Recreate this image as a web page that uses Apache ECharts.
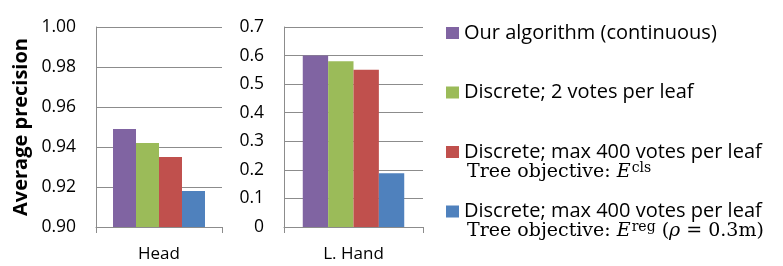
<!DOCTYPE html>
<html>
<head>
<meta charset="utf-8">
<script src="https://cdn.jsdelivr.net/npm/echarts@6/dist/echarts.min.js"></script>
<style>
html,body{margin:0;padding:0;background:#fff;}
#chart{width:783px;height:266px;}
</style>
</head>
<body>
<div id="chart"></div>
<script>
const headCategories = ['Head'];
const handCategories = ['L. Hand'];
const seriesNames = [
  'Our algorithm (continuous)',
  'Discrete; 2 votes per leaf',
  'Discrete; max 400 votes per leaf ',
  'Discrete; max 400 votes per leaf'
];
const seriesColors = ['#8064A2', '#9BBB59', '#C0504D', '#4F81BD'];
const headValues = [0.949, 0.942, 0.935, 0.918];
const handValues = [0.60, 0.58, 0.55, 0.188];
const headTicks = [0.90, 0.92, 0.94, 0.96, 0.98, 1.00];
const handTicks = [0, 0.1, 0.2, 0.3, 0.4, 0.5, 0.6, 0.7];

const FONT = 'Open Sans';
const SERIF = 'DejaVu Serif';
const gridColor = '#8c8c8c';

const chart = echarts.init(document.getElementById('chart'), null, {renderer: 'canvas'});

function xAxisCfg(gridIndex, cats) {
  return {
    type: 'category', gridIndex, data: cats,
    axisLine: {show: true, lineStyle: {color: gridColor, width: 1}},
    axisTick: {show: true, length: 6, alignWithLabel: false, lineStyle: {color: gridColor}},
    axisLabel: {color: '#000', fontFamily: FONT, fontSize: 17, margin: 19},
    splitLine: {show: false}
  };
}
function yAxisCfg(gridIndex, ticks, digits, extra) {
  return Object.assign({
    type: 'value', gridIndex,
    min: ticks[0], max: ticks[ticks.length - 1],
    interval: +(ticks[1] - ticks[0]).toFixed(4),
    axisLine: {show: true, lineStyle: {color: gridColor, width: 1}},
    axisTick: {show: false},
    axisLabel: {color: '#000', fontFamily: FONT, fontSize: 17.5, margin: 20,
      formatter: v => (v === 0 ? '0' : v.toFixed(digits))},
    splitLine: {show: true, lineStyle: {color: gridColor, width: 1}}
  }, extra || {});
}

const series = [];
seriesNames.forEach((name, i) => {
  series.push({
    name, type: 'bar', xAxisIndex: 0, yAxisIndex: 0,
    data: [headValues[i]], itemStyle: {color: seriesColors[i]},
    barGap: '0%', barCategoryGap: '27%', animation: false
  });
  series.push({
    name, type: 'bar', xAxisIndex: 1, yAxisIndex: 1,
    data: [handValues[i]], itemStyle: {color: seriesColors[i]},
    barGap: '0%', barCategoryGap: '27%', animation: false
  });
});

const richSecond = {
  t: {fontFamily: SERIF, fontSize: 19, color: '#000'},
  i: {fontFamily: SERIF, fontStyle: 'italic', fontSize: 19, color: '#000'},
  sup: {fontFamily: SERIF, fontSize: 14, color: '#000', verticalAlign: 'top', padding: [0, 0, 8, 1]}
};

const option = {
  backgroundColor: '#fff',
  animation: false,
  grid: [
    {left: 96, top: 27, width: 126, height: 200},
    {left: 284, top: 27, width: 139, height: 200}
  ],
  xAxis: [xAxisCfg(0, headCategories), xAxisCfg(1, handCategories)],
  yAxis: [
    yAxisCfg(0, headTicks, 2, {
      name: 'Average precision', nameLocation: 'middle', nameGap: 65,
      nameTextStyle: {fontFamily: FONT, fontSize: 20, fontWeight: 'bold', color: '#000'}
    }),
    yAxisCfg(1, handTicks, 1)
  ],
  legend: {
    orient: 'vertical', left: 441, top: 18,
    itemWidth: 13, itemHeight: 12, itemGap: 39.5,
    icon: 'rect',
    data: seriesNames,
    selectedMode: false,
    textStyle: {fontFamily: FONT, fontSize: 20, color: '#000', lineHeight: 20}
  },
  graphic: [
    {type: 'text', left: 467, top: 161, style: {
      text: '{t|Tree objective: }{i|E}{sup|cls}',
      font: '19px "DejaVu Serif"', rich: richSecond
    }},
    {type: 'text', left: 467, top: 220, style: {
      text: '{t|Tree objective: }{i|E}{sup|reg}{t| (}{i|ρ}{t| = 0.3m)}',
      font: '19px "DejaVu Serif"', rich: richSecond
    }}
  ],
  series
};
chart.setOption(option);
</script>
</body>
</html>
